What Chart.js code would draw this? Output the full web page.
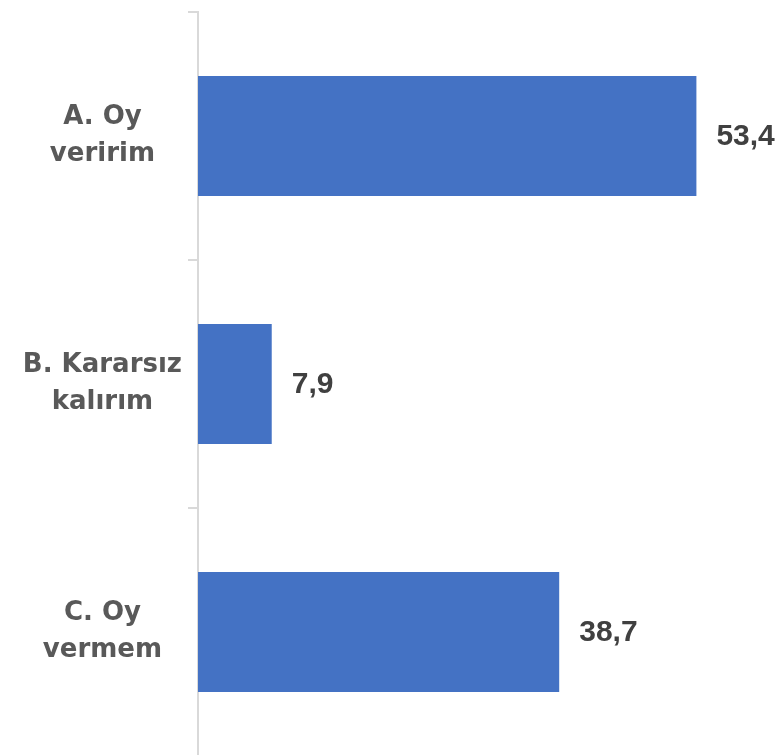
<!DOCTYPE html>
<html>
<head>
<meta charset="utf-8">
<script src="https://cdn.jsdelivr.net/npm/chart.js@4/dist/chart.umd.min.js"></script>
<style>
html,body{margin:0;padding:0;background:#fff;overflow:hidden;}
#wrap{width:780px;height:756px;position:relative;}
</style>
</head>
<body>
<div id="wrap"><canvas id="c"></canvas></div>
<script>
const categories = [["A. Oy", "veririm"], ["B. Kararsız", "kalırım"], ["C. Oy", "vermem"]];
const values = [53.4, 7.9, 38.7];
const valueLabels = ["53,4", "7,9", "38,7"];

const valueLabelPlugin = {
  id: 'valueLabels',
  afterDatasetsDraw(chart) {
    const ctx = chart.ctx;
    const meta = chart.getDatasetMeta(0);
    ctx.save();
    ctx.font = 'bold 30px "Liberation Sans", Arial, sans-serif';
    ctx.fillStyle = '#404040';
    ctx.textAlign = 'left';
    ctx.textBaseline = 'middle';
    meta.data.forEach((bar, i) => {
      ctx.fillText(valueLabels[i], bar.x + 20, bar.y + 1);
    });
    ctx.restore();
  }
};

new Chart(document.getElementById('c'), {
  type: 'bar',
  data: {
    labels: categories,
    datasets: [{
      data: values,
      backgroundColor: '#4472C4',
      borderWidth: 0,
      categoryPercentage: 1,
      barPercentage: 0.484
    }]
  },
  options: {
    indexAxis: 'y',
    responsive: true,
    maintainAspectRatio: false,
    animation: false,
    layout: { padding: { top: 12, right: 22, bottom: 0, left: 0 } },
    plugins: { legend: { display: false }, tooltip: { enabled: false } },
    scales: {
      x: { display: false, min: 0, max: 60 },
      y: {
        afterFit(scale) {
          scale.width = 198;
          scale.paddingTop = 0;
          scale.paddingBottom = 0;
        },
        grid: {
          drawOnChartArea: false,
          drawTicks: true,
          tickLength: 10,
          color: '#d9d9d9',
          lineWidth: 2
        },
        border: { display: true, color: '#d9d9d9', width: 2 },
        ticks: {
          crossAlign: 'center',
          padding: 6,
          color: '#595959',
          font: { family: '"DejaVu Sans", sans-serif', size: 26, weight: 'bold', lineHeight: 1.42 }
        }
      }
    }
  },
  plugins: [valueLabelPlugin]
});
</script>
</body>
</html>
